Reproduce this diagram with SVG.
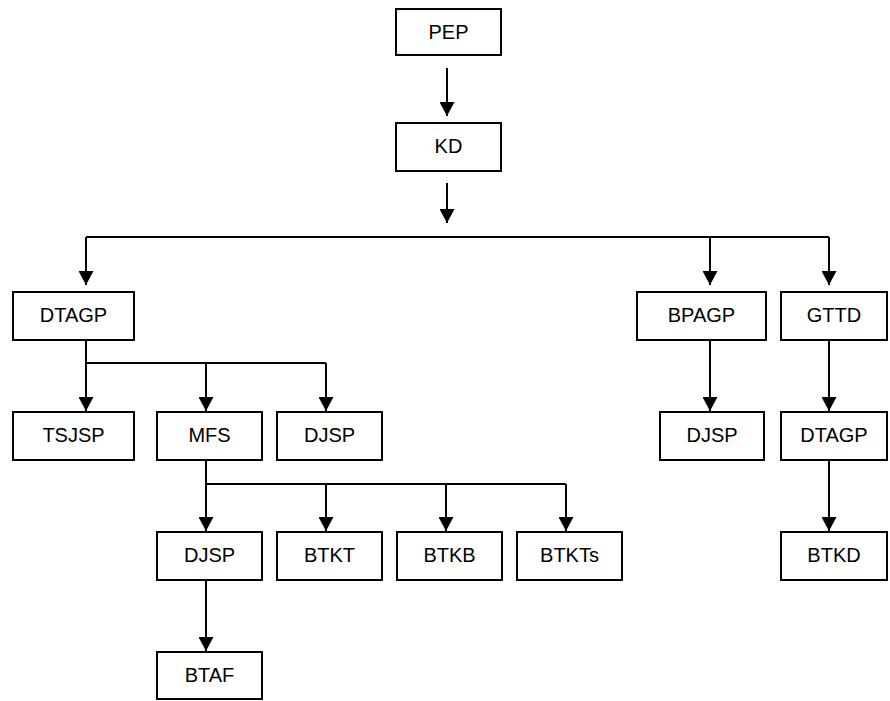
<svg xmlns="http://www.w3.org/2000/svg" width="890" height="701" viewBox="0 0 890 701">
<defs>
<style>
.box rect{fill:#fff;stroke:#000;stroke-width:2}
.box text{font-family:"Liberation Sans",Arial,sans-serif;font-size:20px;text-anchor:middle;fill:#000}
.c path{fill:none;stroke:#000;stroke-width:2}
.c path.a{marker-end:url(#ah)}
</style>
<marker id="ah" markerUnits="userSpaceOnUse" viewBox="0 0 14 15" refX="14" refY="7.5" markerWidth="14" markerHeight="15" orient="auto">
<path d="M0,0 L14,7.5 L0,15 z" fill="#000"/>
</marker>
</defs>
<rect width="890" height="701" fill="#fff"/>
<g class="c" id="connectors">
<path class="a" d="M447,68 V116"/>
<path class="a" d="M447,183 V223"/>
<path d="M86,237 H829"/>
<path class="a" d="M86,237 V285"/>
<path class="a" d="M710,237 V285"/>
<path class="a" d="M829,237 V285"/>
<path d="M86,340 V363 M86,363 H326"/>
<path class="a" d="M86,363 V411"/>
<path class="a" d="M206,363 V411"/>
<path class="a" d="M326,363 V411"/>
<path d="M206,460 V484 M206,484 H566"/>
<path class="a" d="M206,484 V531"/>
<path class="a" d="M326,484 V531"/>
<path class="a" d="M446,484 V531"/>
<path class="a" d="M566,484 V531"/>
<path class="a" d="M206,580 V651"/>
<path class="a" d="M710,340 V411"/>
<path class="a" d="M829,340 V411"/>
<path class="a" d="M829,460 V531"/>
</g>
<g class="box" id="pep"><rect x="396" y="9" width="105" height="46"/><text x="448.5" y="38.5">PEP</text></g>
<g class="box" id="kd"><rect x="396" y="123" width="105" height="48"/><text x="448.5" y="153">KD</text></g>
<g class="box" id="dtagp1"><rect x="13" y="292" width="121" height="48"/><text x="73.5" y="322">DTAGP</text></g>
<g class="box" id="bpagp"><rect x="637" y="292" width="129" height="48"/><text x="701.5" y="322">BPAGP</text></g>
<g class="box" id="gttd"><rect x="781" y="292" width="106" height="48"/><text x="834" y="322">GTTD</text></g>
<g class="box" id="tsjsp"><rect x="13" y="412" width="121" height="48"/><text x="73.5" y="442">TSJSP</text></g>
<g class="box" id="mfs"><rect x="157" y="412" width="105" height="48"/><text x="209.5" y="442">MFS</text></g>
<g class="box" id="djsp1"><rect x="277" y="412" width="105" height="48"/><text x="329.5" y="442">DJSP</text></g>
<g class="box" id="djsp2"><rect x="660" y="412" width="104" height="48"/><text x="712" y="442">DJSP</text></g>
<g class="box" id="dtagp2"><rect x="781" y="412" width="106" height="48"/><text x="834" y="442">DTAGP</text></g>
<g class="box" id="djsp3"><rect x="157" y="532" width="105" height="48"/><text x="209.5" y="562">DJSP</text></g>
<g class="box" id="btkt"><rect x="277" y="532" width="105" height="48"/><text x="329.5" y="562">BTKT</text></g>
<g class="box" id="btkb"><rect x="397" y="532" width="105" height="48"/><text x="449.5" y="562">BTKB</text></g>
<g class="box" id="btkts"><rect x="517" y="532" width="105" height="48"/><text x="569.5" y="562">BTKTs</text></g>
<g class="box" id="btkd"><rect x="781" y="532" width="106" height="48"/><text x="834" y="562">BTKD</text></g>
<g class="box" id="btaf"><rect x="157" y="652" width="105" height="47"/><text x="209.5" y="682">BTAF</text></g>
</svg>
